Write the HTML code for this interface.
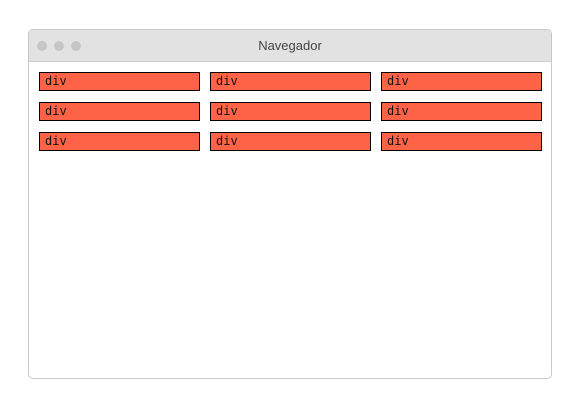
<!DOCTYPE html>
<html><head><style>
body{margin:0;width:580px;height:414px;background:#fff;position:relative;overflow:hidden}
.win{position:absolute;left:28px;top:29px;width:522px;height:348px;border:1px solid #c8c8c8;border-radius:5px;background:#fff;overflow:hidden}
.bar{position:absolute;left:0;top:0;width:100%;height:31px;background:#e2e2e2;border-bottom:1px solid #cfcfcf}
.dot{position:absolute;top:11px;width:10px;height:10px;border-radius:50%;background:#c6c6c6}
.title{position:absolute;left:0;right:0;top:8px;text-align:center;font:13px "Liberation Sans",sans-serif;color:#444}
.b{position:absolute;width:159px;height:17px;background:#ff6347;border:1px solid #000;font:12px "DejaVu Sans Mono","Liberation Mono",monospace;line-height:17px;padding-left:5px;box-sizing:content-box;width:154px;color:#111}
</style></head><body>
<div class="win">
<div class="bar"><div class="dot" style="left:8px"></div><div class="dot" style="left:25px"></div><div class="dot" style="left:42px"></div><div class="title">Navegador</div></div>
</div>
<div class="b" style="left:39px;top:72px">div</div>
<div class="b" style="left:210px;top:72px">div</div>
<div class="b" style="left:381px;top:72px">div</div>
<div class="b" style="left:39px;top:102px">div</div>
<div class="b" style="left:210px;top:102px">div</div>
<div class="b" style="left:381px;top:102px">div</div>
<div class="b" style="left:39px;top:132px">div</div>
<div class="b" style="left:210px;top:132px">div</div>
<div class="b" style="left:381px;top:132px">div</div>
</body></html>
